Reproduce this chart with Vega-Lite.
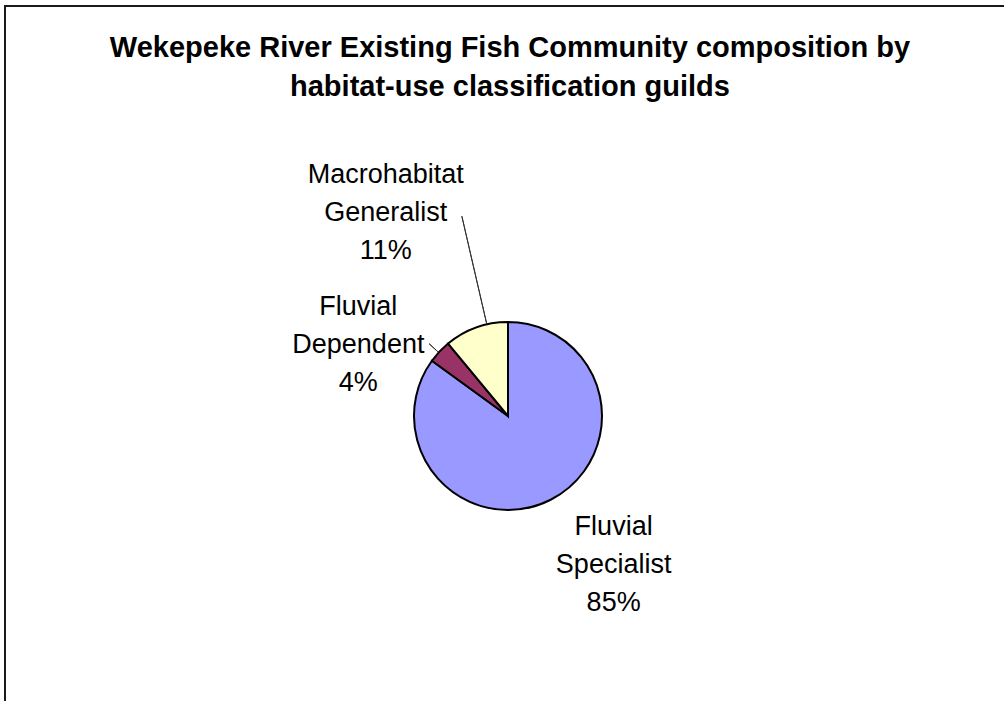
{
  "$schema": "https://vega.github.io/schema/vega-lite/v6.json",
  "width": 1006,
  "height": 820,
  "autosize": {"type": "none"},
  "padding": {"left": 5, "top": 6, "right": 0, "bottom": 0},
  "background": "white",
  "view": {"stroke": "#1a1a1a", "strokeWidth": 2, "fill": "white"},
  "config": {
    "view": {"stroke": "#1a1a1a", "strokeWidth": 2},
    "font": "Liberation Sans"
  },
  "title": {
    "text": ["Wekepeke River Existing Fish Community composition by", "habitat-use classification guilds"],
    "font": "Liberation Sans",
    "fontSize": 29,
    "fontWeight": "bold",
    "color": "black",
    "anchor": "middle",
    "frame": "group",
    "baseline": "top",
    "offset": -96,
    "lineHeight": 39,
    "dx": 2
  },
  "data": {
    "values": [
      {"category": "Fluvial Specialist", "pct": 85, "label": "Fluvial\nSpecialist\n85%"},
      {"category": "Fluvial Dependent", "pct": 4, "label": "Fluvial\nDependent\n4%"},
      {"category": "Macrohabitat Generalist", "pct": 11, "label": "Macrohabitat\nGeneralist\n11%"}
    ]
  },
  "transform": [{"window": [{"op": "row_number", "as": "rank"}]}],
  "layer": [
    {
      "mark": {"type": "arc", "outerRadius": 94, "stroke": "black", "strokeWidth": 2},
      "encoding": {
        "theta": {"field": "pct", "type": "quantitative", "stack": true, "scale": {"domain": [0, 100]}},
        "order": {"field": "rank", "type": "quantitative"},
        "color": {
          "field": "category",
          "type": "nominal",
          "scale": {
            "domain": ["Fluvial Specialist", "Fluvial Dependent", "Macrohabitat Generalist"],
            "range": ["#9999FF", "#993366", "#FFFFCC"]
          },
          "legend": null
        }
      }
    },
    {
      "transform": [
        {"stack": "pct", "groupby": [], "sort": [{"field": "rank", "order": "ascending"}], "as": ["s0", "s1"]},
        {"filter": "datum.category === 'Macrohabitat Generalist'"}
      ],
      "mark": {"type": "arc", "innerRadius": 95, "outerRadius": 205, "thetaOffset": -0.227, "theta2Offset": -0.227, "fillOpacity": 0, "stroke": "#333333", "strokeWidth": 1},
      "encoding": {
        "theta": {"field": "s1", "type": "quantitative", "stack": null, "scale": {"domain": [0, 100]}},
        "theta2": {"field": "s1"}
      }
    },
    {
      "transform": [
        {"stack": "pct", "groupby": [], "sort": [{"field": "rank", "order": "ascending"}], "as": ["s0", "s1"]},
        {"filter": "datum.category === 'Fluvial Dependent'"}
      ],
      "mark": {"type": "arc", "innerRadius": 95, "outerRadius": 107, "thetaOffset": -0.138, "theta2Offset": -0.138, "fillOpacity": 0, "stroke": "#333333", "strokeWidth": 1},
      "encoding": {
        "theta": {"field": "s1", "type": "quantitative", "stack": null, "scale": {"domain": [0, 100]}},
        "theta2": {"field": "s1"}
      }
    },
    {
      "mark": {"type": "text", "radius": 160, "dx": 33, "dy": -32, "fontSize": 27, "lineHeight": 38, "lineBreak": "\n", "align": "center", "baseline": "middle", "color": "black"},
      "encoding": {
        "theta": {"field": "pct", "type": "quantitative", "stack": true, "scale": {"domain": [0, 100]}},
        "order": {"field": "rank", "type": "quantitative"},
        "text": {"condition": {"test": "datum.category === 'Fluvial Specialist'", "field": "label"}, "value": ""}
      }
    },
    {
      "mark": {"type": "text", "radius": 160, "dx": -33, "dy": 1, "fontSize": 27, "lineHeight": 38, "lineBreak": "\n", "align": "center", "baseline": "middle", "color": "black"},
      "encoding": {
        "theta": {"field": "pct", "type": "quantitative", "stack": true, "scale": {"domain": [0, 100]}},
        "order": {"field": "rank", "type": "quantitative"},
        "text": {"condition": {"test": "datum.category === 'Fluvial Dependent'", "field": "label"}, "value": ""}
      }
    },
    {
      "mark": {"type": "text", "radius": 160, "dx": -68, "dy": -90, "fontSize": 27, "lineHeight": 38, "lineBreak": "\n", "align": "center", "baseline": "middle", "color": "black"},
      "encoding": {
        "theta": {"field": "pct", "type": "quantitative", "stack": true, "scale": {"domain": [0, 100]}},
        "order": {"field": "rank", "type": "quantitative"},
        "text": {"condition": {"test": "datum.category === 'Macrohabitat Generalist'", "field": "label"}, "value": ""}
      }
    }
  ]
}
